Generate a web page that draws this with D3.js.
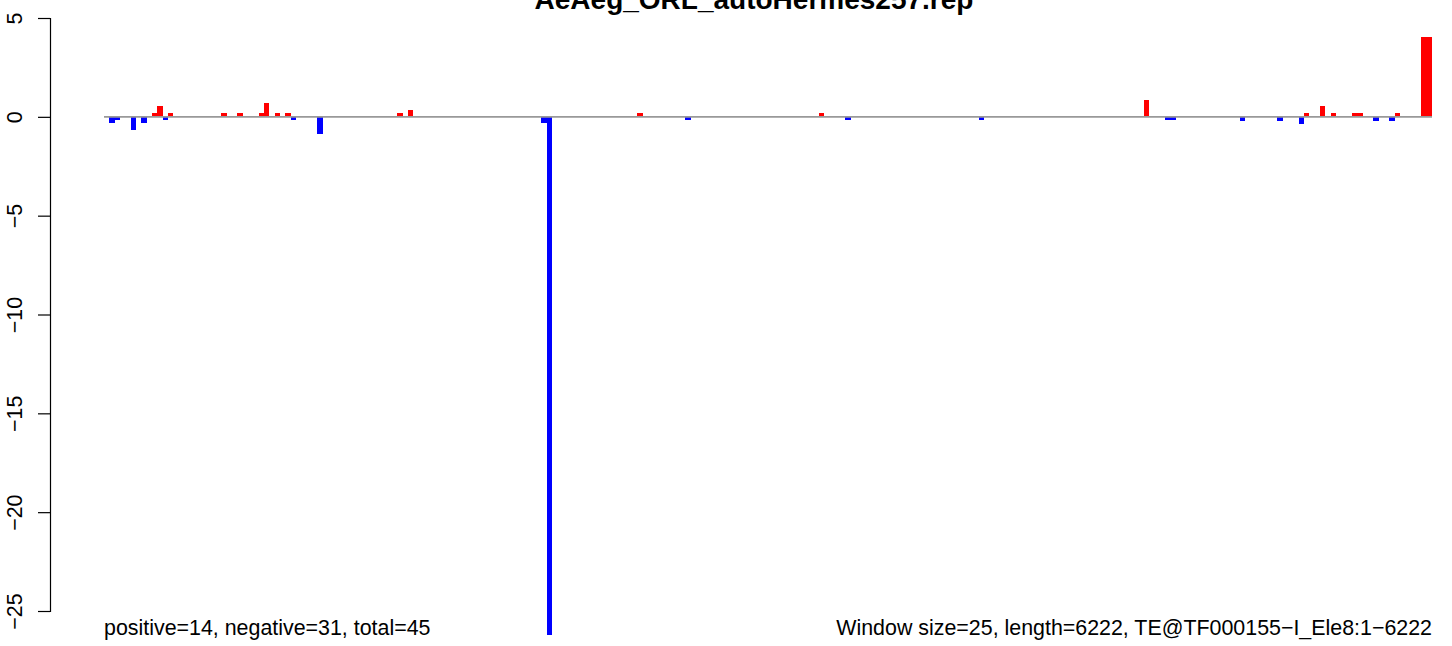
<!DOCTYPE html>
<html><head><meta charset="utf-8">
<script src="https://cdn.jsdelivr.net/npm/d3@7"></script>
<style>body{margin:0;background:#fff}svg{display:block}text{font-family:"Liberation Sans",Arial,Helvetica,sans-serif}</style>
</head><body>
<script>
const title = "AeAeg_ORL_autoHermes257.rep";
const leftNote = "positive=14, negative=31, total=45";
const rightNote = "Window size=25, length=6222, TE@TF000155\u2212I_Ele8:1\u22126222";
const nWindows = 249;
const windows = [1,2,5,7,9,10,11,12,22,25,29,30,32,34,35,40,55,57,82,83,100,109,134,139,164,195,199,200,213,220,224,225,228,230,234,235,238,241,242,247,248];
const values  = [-0.33,-0.18,-0.69,-0.33,0.2,0.55,-0.18,0.2,0.2,0.2,0.2,0.7,0.2,0.2,-0.18,-0.89,0.2,0.35,-0.32,-26.2,0.2,-0.18,0.2,-0.18,-0.18,0.85,-0.18,-0.18,-0.2,-0.2,-0.35,0.2,0.55,0.2,0.2,0.2,-0.2,-0.2,0.2,4.05,4.05];
const yTicks = [5,0,-5,-10,-15,-20,-25];

const W = 1452, H = 646;
const svg = d3.select("body").append("svg").attr("width", W).attr("height", H);
const x = d3.scaleLinear().domain([0, nWindows]).range([104, 1432]);
const y = d3.scaleLinear().domain([5, -25]).range([18, 611]);

const data = windows.map((w, i) => ({w, v: values[i]}));
svg.append("g").attr("shape-rendering", "crispEdges").selectAll("rect").data(data).join("rect")
  .attr("x", d => x(d.w))
  .attr("width", d => x(d.w + 1) - x(d.w))
  .attr("y", d => y(Math.max(0, d.v)))
  .attr("height", d => Math.abs(y(d.v) - y(0)))
  .attr("fill", d => d.v >= 0 ? "#FF0000" : "#0000FF");

svg.append("line").attr("x1", x(0)).attr("x2", x(nWindows))
  .attr("y1", y(0)).attr("y2", y(0)).attr("stroke", "#999").attr("stroke-width", 1.6);

const axis = d3.axisLeft(y).tickValues(yTicks).tickSizeOuter(0).tickSize(12)
  .tickFormat(d => d3.format("")(d).replace("-", "\u2212"));
const ag = svg.append("g").attr("transform", "translate(50,0)").call(axis);
ag.select(".domain").attr("stroke", "#000").attr("stroke-width", 1.2);
ag.selectAll(".tick line").attr("stroke", "#000").attr("stroke-width", 1.2);
ag.selectAll(".tick text").attr("font-size", 21.4).attr("fill", "#000")
  .attr("text-anchor", "middle").attr("x", 0).attr("dy", 0)
  .attr("transform", "translate(-28,0) rotate(-90)");

svg.append("text").attr("x", 754).attr("y", 9).attr("text-anchor", "middle")
  .attr("font-size", 28).attr("font-weight", "bold").text(title);
svg.append("text").attr("x", 104).attr("y", 635).attr("font-size", 21.4).text(leftNote);
svg.append("text").attr("x", 1432).attr("y", 635).attr("text-anchor", "end").attr("font-size", 21.4).text(rightNote);
</script>
</body></html>
